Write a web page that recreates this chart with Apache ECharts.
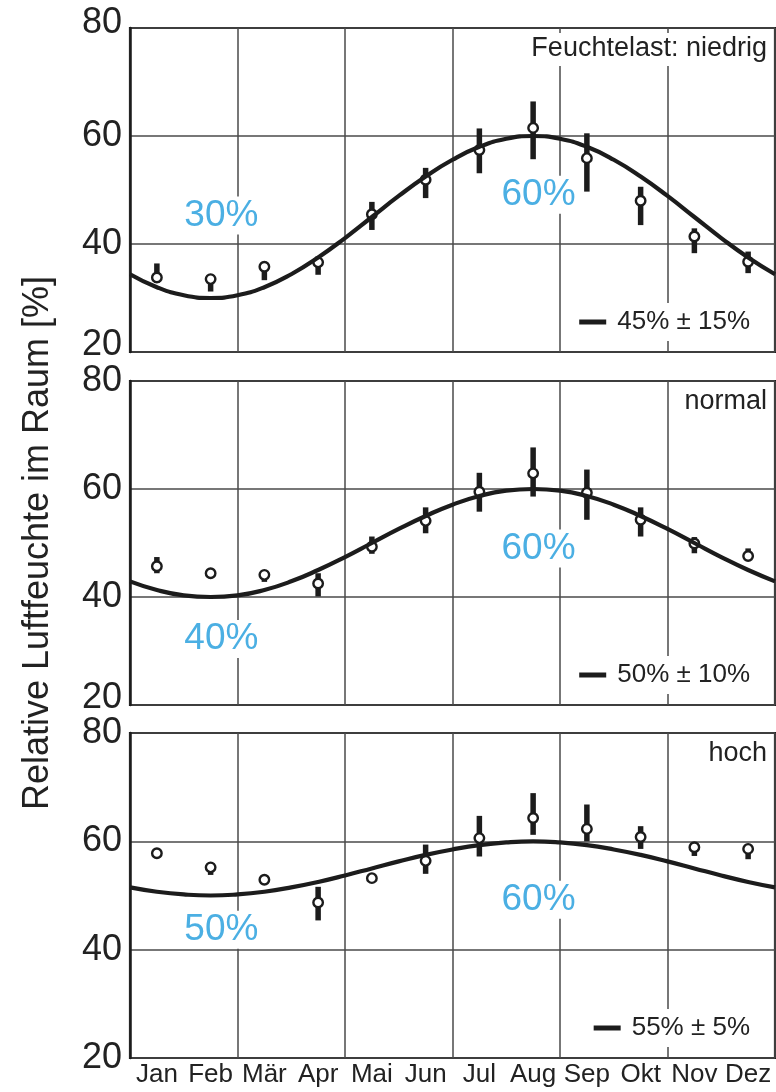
<!DOCTYPE html>
<html>
<head>
<meta charset="utf-8">
<script src="https://cdn.jsdelivr.net/npm/echarts@6/dist/echarts.min.js"></script>
<style>
	html, body {margin: 0; padding: 0; background: #fff;}
	#chart {width: 776px; height: 1092px;}
</style>
</head>
<body>
<div id="chart"></div>
<script type="text/javascript">
// Monate und Positionen (Monatsmitte)
var months = ['Jan', 'Feb', 'Mär', 'Apr', 'Mai', 'Jun', 'Jul', 'Aug', 'Sep', 'Okt', 'Nov', 'Dez'];
var monthX = [0.5, 1.5, 2.5, 3.5, 4.5, 5.5, 6.5, 7.5, 8.5, 9.5, 10.5, 11.5];

// Messwerte: Mittelwert, unteres und oberes Ende des Balkens
var lowMean = [33.8, 33.5, 35.8, 36.6, 45.5, 51.9, 57.4, 61.5, 55.9, 48.0, 41.4, 36.7];
var lowMin  = [32.8, 31.2, 33.3, 34.3, 42.6, 48.5, 53.1, 55.7, 49.7, 43.5, 38.3, 34.6];
var lowMax  = [36.4, 34.3, 36.7, 37.7, 47.8, 54.1, 61.4, 66.4, 60.5, 50.6, 42.9, 38.6];

var normMean = [45.7, 44.4, 44.1, 42.5, 49.3, 54.1, 59.5, 62.9, 59.3, 54.3, 49.9, 47.6];
var normMin  = [44.4, 43.8, 42.8, 40.1, 48.0, 51.8, 55.8, 58.6, 54.3, 51.2, 48.1, 47.0];
var normMax  = [47.4, 45.1, 44.8, 44.4, 51.2, 56.6, 63.0, 67.7, 63.6, 56.6, 51.1, 49.0];

var highMean = [57.8, 55.2, 52.9, 48.7, 53.2, 56.4, 60.6, 64.3, 62.3, 60.8, 58.9, 58.6];
var highMin  = [57.3, 53.8, 52.4, 45.4, 52.7, 54.0, 57.2, 61.2, 60.0, 58.6, 57.3, 56.7];
var highMax  = [58.3, 55.8, 53.4, 51.6, 53.7, 59.4, 64.7, 68.9, 66.8, 62.8, 59.4, 59.1];

var curveX = [0, 0.5, 1, 1.5, 2, 2.5, 3, 3.5, 4, 4.5, 5, 5.5, 6, 6.5, 7, 7.5, 8, 8.5, 9, 9.5, 10, 10.5, 11, 11.5, 12];
var curveLow  = [34.4, 32.0, 30.5, 30.0, 30.5, 32.0, 34.4, 37.5, 41.1, 45.0, 48.9, 52.5, 55.6, 58.0, 59.5, 60.0, 59.5, 58.0, 55.6, 52.5, 48.9, 45.0, 41.1, 37.5, 34.4];
var curveNorm = [42.9, 41.3, 40.3, 40.0, 40.3, 41.3, 42.9, 45.0, 47.4, 50.0, 52.6, 55.0, 57.1, 58.7, 59.7, 60.0, 59.7, 58.7, 57.1, 55.0, 52.6, 50.0, 47.4, 45.0, 42.9];
var curveHigh = [51.5, 50.7, 50.2, 50.0, 50.2, 50.7, 51.5, 52.5, 53.7, 55.0, 56.3, 57.5, 58.5, 59.3, 59.8, 60.0, 59.8, 59.3, 58.5, 57.5, 56.3, 55.0, 53.7, 52.5, 51.5];

// Beschriftungen
var panelTitles = ['Feuchtelast: niedrig', 'normal', 'hoch'];
var bandTexts = ['45% ± 15%', '50% ± 10%', '55% ± 5%'];
var minTexts = ['30%', '40%', '50%'];
var minTextY = [45.3, 32.2, 43.7];
var maxTexts = ['60%', '60%', '60%'];
var maxTextY = [49.1, 49.0, 49.2];
var yTicks = [20, 40, 60, 80];

var FONT = '"Liberation Sans", Arial, sans-serif';
var INK = '#1c1c1c';
var BLUE = '#4bafe3';

var panels = [
	{mean: lowMean, lo: lowMin, hi: lowMax, curve: curveLow},
	{mean: normMean, lo: normMin, hi: normMax, curve: curveNorm},
	{mean: highMean, lo: highMin, hi: highMax, curve: curveHigh}
];
var panelTop = [28, 381, 733];
var panelHeight = [324, 324, 325];

function pairs(xs, ys) {
	return xs.map(function (x, i) { return [x, ys[i]]; });
}

function renderBar(params, api) {
	var x = api.value(0);
	var p1 = api.coord([x, api.value(1)]);
	var p2 = api.coord([x, api.value(2)]);
	var w = 5.5;
	return {
		type: 'rect',
		shape: {x: p1[0] - w / 2, y: p2[1], width: w, height: p1[1] - p2[1]},
		style: {fill: INK}
	};
}

var grids = [], xAxes = [], yAxes = [], series = [], graphics = [];

panels.forEach(function (p, i) {
	grids.push({
		left: 130, right: 1, top: panelTop[i], height: panelHeight[i],
		show: true, borderColor: INK, borderWidth: 2.2, backgroundColor: '#fff'
	});
	xAxes.push({
		gridIndex: i, type: 'value', min: 0, max: 12, interval: 2, position: 'bottom',
		axisLine: {show: false}, axisTick: {show: false}, axisLabel: {show: false},
		splitLine: {show: true, lineStyle: {color: '#4a4a4a', width: 1.5}}
	});
	yAxes.push({
		gridIndex: i, type: 'value', min: yTicks[0], max: yTicks[3], interval: 20,
		axisLine: {show: true, lineStyle: {color: INK, width: 2.5}},
		axisTick: {show: false},
		axisLabel: {
			margin: 8, color: '#222', fontSize: 36, fontFamily: FONT,
			formatter: function (v) {
				if (v === 20 && i < 2) return '{lo|20}';
				if (v === 80 && i === 0) return '{hi|80}';
				return String(v);
			},
			rich: {
				lo: {fontSize: 36, fontFamily: FONT, color: '#222', padding: [0, 0, 14, 0]},
				hi: {fontSize: 36, fontFamily: FONT, color: '#222', padding: [0, 0, 9, 0]}
			}
		},
		splitLine: {show: true, lineStyle: {color: '#4a4a4a', width: 1.5}}
	});

	var bars = monthX.map(function (x, k) { return [x, p.lo[k], p.hi[k]]; });
	series.push({
		type: 'custom', xAxisIndex: i, yAxisIndex: i, renderItem: renderBar,
		encode: {x: 0, y: [1, 2]}, data: bars, z: 3, silent: true
	});
	series.push({
		type: 'scatter', xAxisIndex: i, yAxisIndex: i, data: pairs(monthX, p.mean),
		symbol: 'circle', symbolSize: 9.5, z: 4, silent: true,
		itemStyle: {color: '#fff', borderColor: INK, borderWidth: 2.4, opacity: 1}
	});
	series.push({
		type: 'line', xAxisIndex: i, yAxisIndex: i, data: pairs(curveX, p.curve),
		smooth: true, showSymbol: false, symbol: 'none', z: 5, silent: true,
		lineStyle: {color: INK, width: 4.2}
	});
	series.push({
		type: 'scatter', xAxisIndex: i, yAxisIndex: i, symbolSize: 1, z: 6, silent: true,
		itemStyle: {color: 'rgba(255,255,255,0)'},
		data: [[1.7, minTextY[i], minTexts[i]], [7.6, maxTextY[i], maxTexts[i]]],
		label: {
			show: true, position: 'inside', formatter: function (d) { return d.data[2]; },
			color: BLUE, fontSize: 37, fontFamily: FONT, opacity: 1, lineHeight: 36,
			backgroundColor: '#fff', padding: [2, 3, 0, 3]
		}
	});

	graphics.push({
		type: 'text', right: 6, top: panelTop[i] + 5, z: 10,
		style: {
			text: panelTitles[i], fill: '#222', fontSize: 27, fontFamily: FONT,
			backgroundColor: '#fff', padding: [2, 3, 4, 3]
		}
	});
	graphics.push({
		type: 'text', right: 23, top: panelTop[i] + panelHeight[i] - 49, z: 10,
		style: {
			text: '{l|}{g|}' + bandTexts[i], fill: '#222', fontSize: 26, fontFamily: FONT,
			backgroundColor: '#fff', padding: [6, 3, 6, 3],
			rich: {
				l: {width: 27, height: 5, backgroundColor: INK},
				g: {width: 11}
			}
		}
	});
});

// Monatsachse unten
xAxes.push({
	gridIndex: 2, type: 'category', data: months, boundaryGap: true, position: 'bottom',
	axisLine: {show: false}, axisTick: {show: false}, splitLine: {show: false},
	axisLabel: {margin: 4, color: '#222', fontSize: 26, fontFamily: FONT, interval: 0}
});

graphics.push({
	type: 'text', x: 38, y: 543, rotation: Math.PI / 2, z: 10,
	style: {
		text: 'Relative Luftfeuchte im Raum [%]', fill: '#222', fontSize: 36, fontFamily: FONT,
		align: 'center', verticalAlign: 'middle'
	}
});

var myChart = echarts.init(document.getElementById('chart'), null, {renderer: 'canvas'});
myChart.setOption({
	animation: false,
	backgroundColor: '#fff',
	textStyle: {fontFamily: FONT},
	grid: grids,
	xAxis: xAxes,
	yAxis: yAxes,
	series: series,
	graphic: graphics
});
</script>
</body>
</html>
